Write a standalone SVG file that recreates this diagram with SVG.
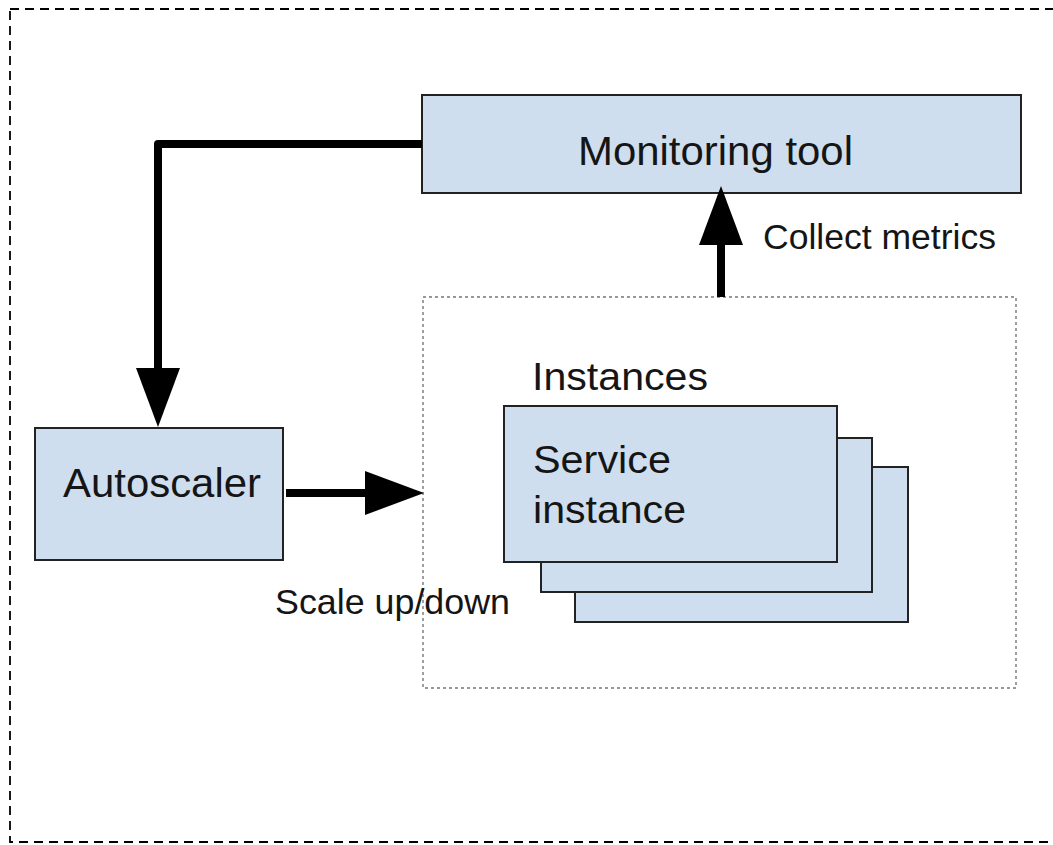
<svg xmlns="http://www.w3.org/2000/svg" width="1053" height="845" viewBox="0 0 1053 845">
<style>
.box{fill:#cfdeee;stroke:#222;stroke-width:2}
.lbl{font-family:"Liberation Sans",Arial,sans-serif;fill:#151515}
.conn{fill:none;stroke:#000;stroke-width:8;stroke-linejoin:round}
</style>
<defs>
<marker id="head" viewBox="0 0 59 44" refX="0" refY="22" markerWidth="59" markerHeight="44" markerUnits="userSpaceOnUse" orient="auto">
<path d="M0,0 L59,22 L0,44 z" fill="#000"/>
</marker>
</defs>
<rect width="1053" height="845" fill="#fff"/>
<g id="frame">
<rect x="10" y="9" width="1070" height="833" fill="none" stroke="#000" stroke-width="1.8" stroke-dasharray="9 6"/>
</g>
<g id="instances-group">
<rect x="423" y="297" width="593" height="391" fill="none" stroke="#777" stroke-width="1.4" stroke-dasharray="3 3"/>
<text class="lbl" x="532" y="390" font-size="38" textLength="176" lengthAdjust="spacingAndGlyphs">Instances</text>
</g>
<g id="monitoring">
<rect class="box" x="422" y="95" width="599" height="98"/>
<text class="lbl" x="578" y="165" font-size="40" textLength="275" lengthAdjust="spacingAndGlyphs">Monitoring tool</text>
</g>
<g id="autoscaler">
<rect class="box" x="35" y="428" width="248" height="132"/>
<text class="lbl" x="63" y="497" font-size="41" textLength="198" lengthAdjust="spacingAndGlyphs">Autoscaler</text>
</g>
<g id="service-instances">
<rect class="box" x="575" y="467" width="333" height="155"/>
<rect class="box" x="541" y="438" width="331" height="154"/>
<rect class="box" x="504" y="406" width="333" height="156"/>
<text class="lbl" x="533" y="473" font-size="38" textLength="138" lengthAdjust="spacingAndGlyphs">Service</text>
<text class="lbl" x="533" y="523" font-size="38" textLength="153" lengthAdjust="spacingAndGlyphs">instance</text>
</g>
<g id="connectors">
<path class="conn" d="M422 144 H158 V368" marker-end="url(#head)"/>
<path class="conn" d="M286 493 H365" marker-end="url(#head)"/>
<path class="conn" d="M721 297 V245" marker-end="url(#head)"/>
<text class="lbl" x="763" y="249" font-size="35" textLength="233" lengthAdjust="spacingAndGlyphs">Collect metrics</text>
<text class="lbl" x="275" y="614" font-size="35" textLength="235" lengthAdjust="spacingAndGlyphs">Scale up/down</text>
</g>
</svg>
